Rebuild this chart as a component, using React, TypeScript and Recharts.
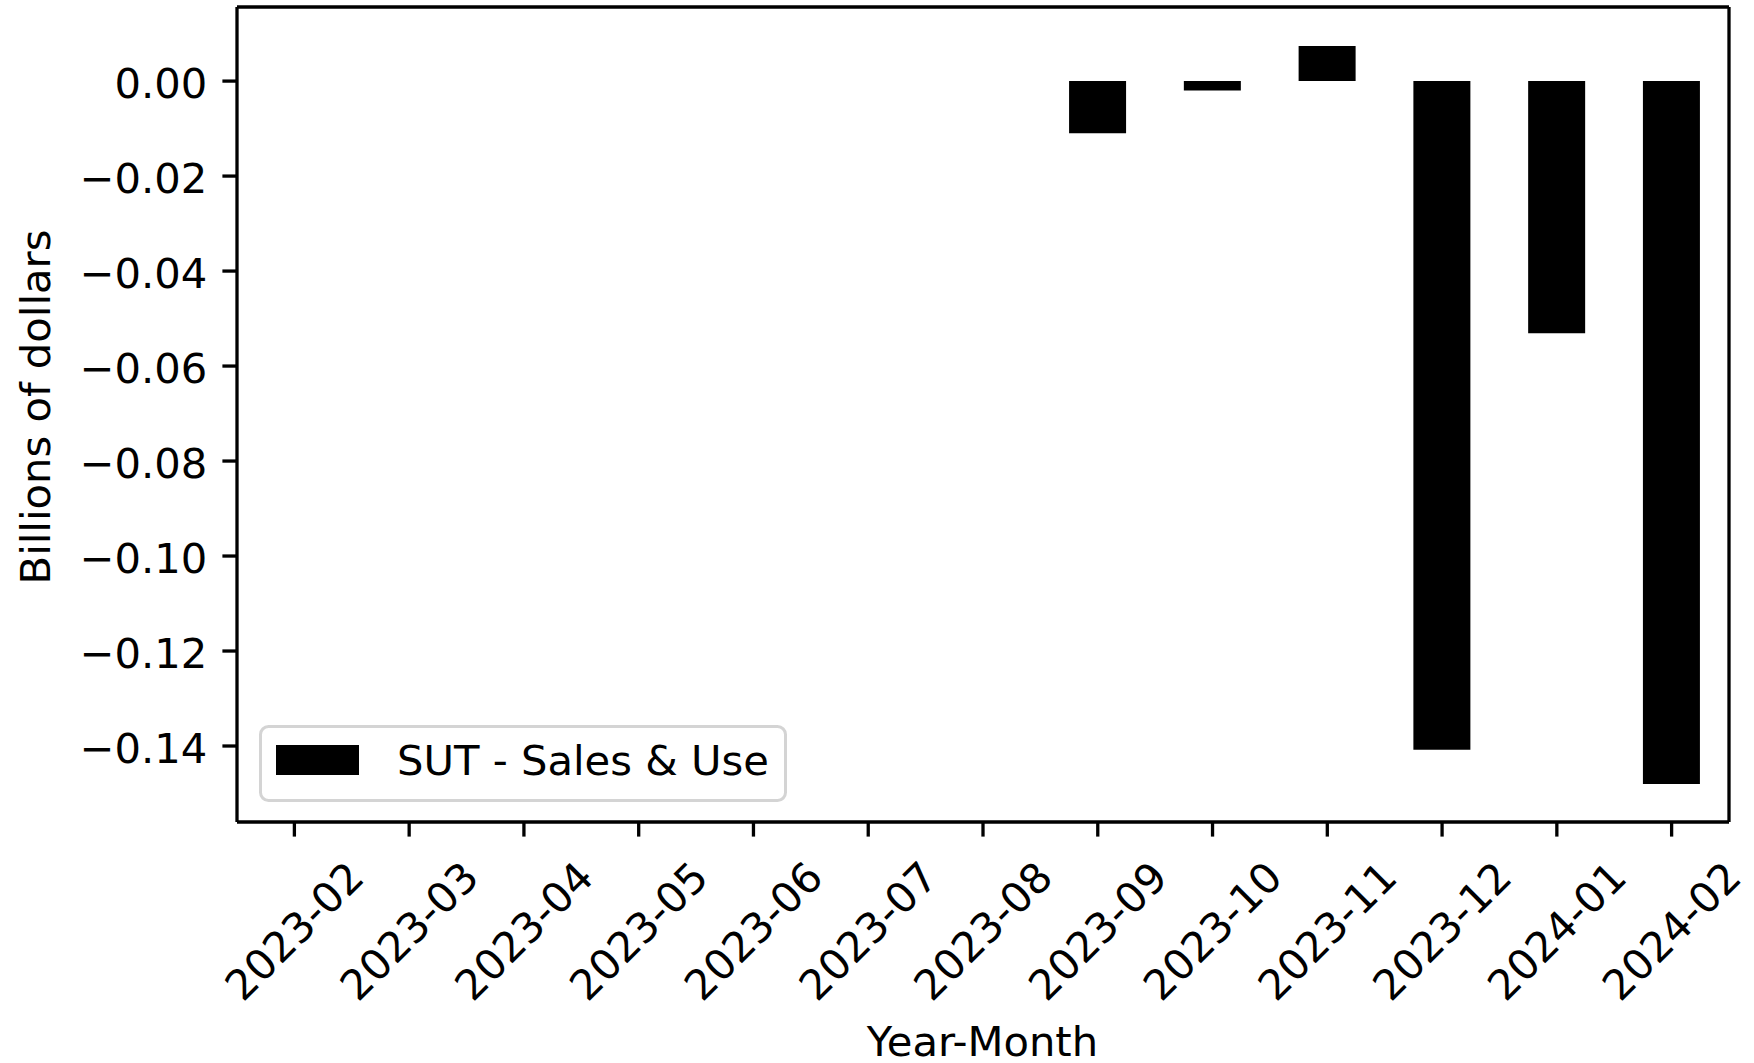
import React from 'react';
import { BarChart, Bar, XAxis, YAxis, Legend } from 'recharts';

// Monthly change in SUT (Sales & Use) collections, billions of dollars
const months = [
  '2023-02', '2023-03', '2023-04', '2023-05', '2023-06', '2023-07', '2023-08',
  '2023-09', '2023-10', '2023-11', '2023-12', '2024-01', '2024-02',
];
const sutValues = [0, 0, 0, 0, 0, 0, 0, -0.011, -0.002, 0.0074, -0.1408, -0.0531, -0.148];
const yTicks = [0, -0.02, -0.04, -0.06, -0.08, -0.1, -0.12, -0.14];
const yDomain: [number, number] = [-0.156, 0.0156];
const seriesName = 'SUT - Sales & Use';

const data = months.map((m, i) => ({ month: m, sut: sutValues[i] }));

const FONT = "'DejaVu Sans', sans-serif";
const FS = 41.7;
const LW = 3.3;
const TICK_LEN = 14.6;

const fmtY = (v: number) => {
  const s = Math.abs(v).toFixed(2);
  return v < 0 ? '\u2212' + s : s;
};

const YTick = (props: any) => {
  const { x, y, payload } = props;
  return (
    <text x={x} y={y} dy={17} textAnchor="end" fontFamily={FONT} fontSize={FS} fill="#000">
      {fmtY(payload.value)}
    </text>
  );
};

const XTick = (props: any) => {
  const { x, payload } = props;
  const cx = x;
  const cy = 931;
  return (
    <text
      x={cx}
      y={cy}
      dy="0.35em"
      textAnchor="middle"
      fontFamily={FONT}
      fontSize={FS}
      fill="#000"
      transform={`rotate(-45, ${cx}, ${cy})`}
    >
      {payload.value}
    </text>
  );
};

const LegendBox = (props: any) => {
  const item = props.payload && props.payload[0];
  const label = item ? item.value : seriesName;
  return (
    <svg width={532} height={81} style={{ display: 'block' }}>
      <rect x={3.5} y={3.5} width={525} height={74} rx={8} ry={8} fill="#fff" stroke="#d4d4d4" strokeWidth={3} />
      <rect x={19} y={22} width={83} height={30} fill="#000" />
      <text x={140} y={52} fontFamily={FONT} fontSize={FS} fill="#000">
        {label}
      </text>
    </svg>
  );
};

export default function App() {
  return (
    <div style={{ position: 'absolute', left: 0, top: 0, width: 1754, height: 1063, background: '#fff' }}>
      <BarChart
        width={1754}
        height={1063}
        data={data}
        margin={{ top: 6, right: 24, bottom: 0, left: 0 }}
        barCategoryGap="25%"
      >
        <XAxis
          dataKey="month"
          height={241}
          tickSize={TICK_LEN}
          tickMargin={0}
          interval={0}
          axisLine={{ stroke: '#000', strokeWidth: LW }}
          tickLine={{ stroke: '#000', strokeWidth: LW }}
          tick={<XTick />}
        />
        {/* top and right spines of the frame */}
        <XAxis xAxisId="top" dataKey="month" orientation="top" height={1} tick={false} tickLine={false}
          axisLine={{ stroke: '#000', strokeWidth: LW }} />
        <YAxis
          type="number"
          width={237}
          domain={yDomain}
          ticks={yTicks}
          allowDataOverflow
          tickSize={TICK_LEN}
          tickMargin={15}
          axisLine={{ stroke: '#000', strokeWidth: LW }}
          tickLine={{ stroke: '#000', strokeWidth: LW }}
          tick={<YTick />}
        />
        <YAxis yAxisId="right" orientation="right" type="number" width={1} domain={yDomain}
          allowDataOverflow tick={false} tickLine={false} axisLine={{ stroke: '#000', strokeWidth: LW }} />
        <Legend
          layout="vertical"
          align="center"
          verticalAlign="middle"
          wrapperStyle={{ left: 257, top: 723, width: 532, height: 81 }}
          content={<LegendBox />}
        />
        <Bar dataKey="sut" name={seriesName} fill="#000" isAnimationActive={false} />
        <text x={982.5} y={1056} textAnchor="middle" fontFamily={FONT} fontSize={FS} fill="#000">
          Year-Month
        </text>
        <text x={50} y={407} textAnchor="middle" fontFamily={FONT} fontSize={FS} fill="#000"
          transform="rotate(-90, 50, 407)">
          Billions of dollars
        </text>
      </BarChart>
    </div>
  );
}
